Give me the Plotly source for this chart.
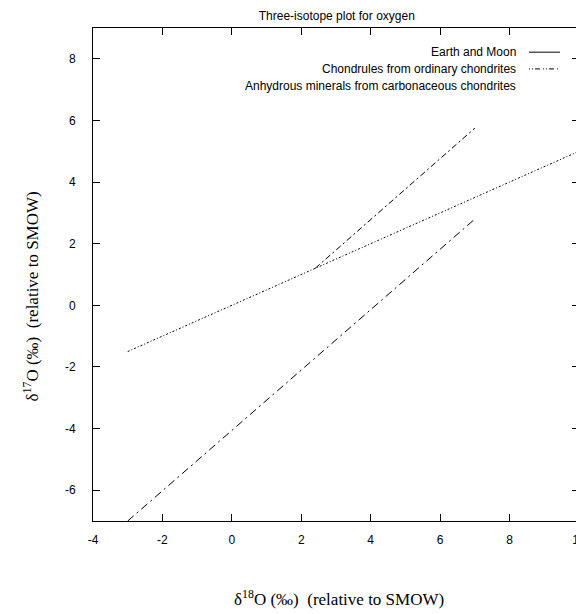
import plotly.graph_objects as go

# ---- data ----
earth_x = [-3, 10]
earth_y = [-1.5, 5.0]
chondrule_x = [2.4, 7.0]
chondrule_y = [1.2, 5.75]
ccam_x = [-3, 7.0]
ccam_y = [-7.0, 2.8]

series_names = [
    "Earth and Moon",
    "Chondrules from ordinary chondrites",
    "Anhydrous minerals from carbonaceous chondrites",
]

x_tickvals = [-4, -2, 0, 2, 4, 6, 8, 10]
x_ticktext = ["-4", "-2", "0", "2", "4", "6", "8", "10"]
y_tickvals = [-6, -4, -2, 0, 2, 4, 6, 8]
y_ticktext = ["-6", "-4", "-2", "0", "2", "4", "6", "8"]

title_text = "Three-isotope plot for oxygen"
x_title = "δ<sup>18</sup>O (‰)  (relative to SMOW)"
y_title = "δ<sup>17</sup>O (‰)  (relative to SMOW)"

# ---- styling ----
dashes = ["2px,2px,1px,2px", "6px,3px,2px,3px", "8px,4px,2px,4px"]
sans = "Liberation Sans, Arial, sans-serif"
serif = "Liberation Serif, Times New Roman, serif"

fig = go.Figure()
for xs, ys, name, dash in zip([earth_x, chondrule_x, ccam_x],
                              [earth_y, chondrule_y, ccam_y],
                              series_names, dashes):
    fig.add_trace(go.Scatter(x=xs, y=ys, mode="lines", name=name,
                             line=dict(color="black", width=1, dash=dash),
                             showlegend=False, cliponaxis=False))

axis_common = dict(
    showgrid=False, zeroline=False, showline=True, linecolor="black",
    linewidth=1, mirror="ticks", ticks="inside", ticklen=7, tickwidth=1,
    tickcolor="black", automargin=False,
    tickfont=dict(family=sans, size=12, color="black"),
)
fig.update_xaxes(range=[-4, 10], tickvals=x_tickvals, ticktext=x_ticktext,
                 ticklabelstandoff=8, **axis_common)
fig.update_yaxes(range=[-7, 9], tickvals=y_tickvals, ticktext=y_ticktext,
                 ticklabelstandoff=14, **axis_common)

# gnuplot-style key (text left of sample) built from annotations/shapes
key_y = [0.951, 0.917, 0.882]
key_dash = ["solid", "1px,2px,1px,2px,5px,3px", None]
for name, yy, dsh in zip(series_names, key_y, key_dash):
    fig.add_annotation(xref="paper", yref="paper", x=0.8745, y=yy,
                       xanchor="right", yanchor="middle", text=name,
                       showarrow=False,
                       font=dict(family=sans, size=12, color="black"))
    if dsh:
        fig.add_shape(type="line", xref="paper", yref="paper",
                      x0=0.897, x1=0.961, y0=yy, y1=yy,
                      line=dict(color="black", width=1, dash=dsh))

# axis titles
fig.add_annotation(xref="paper", yref="paper", x=0.507, y=-0.156,
                   xanchor="center", yanchor="middle", text=x_title,
                   showarrow=False,
                   font=dict(family=serif, size=17, color="black"))
fig.add_annotation(xref="paper", yref="paper", x=-0.128, y=0.455,
                   xanchor="center", yanchor="middle", text=y_title,
                   textangle=-90, showarrow=False,
                   font=dict(family=serif, size=17, color="black"))

fig.update_layout(
    width=584, height=614,
    margin=dict(l=85, r=13, t=20, b=101, autoexpand=False),
    paper_bgcolor="white", plot_bgcolor="white",
    title=dict(text=title_text, x=0.563, xanchor="center", y=0.987,
               yanchor="middle",
               font=dict(family=sans, size=12, color="black")),
)

fig.write_html("out.html")
